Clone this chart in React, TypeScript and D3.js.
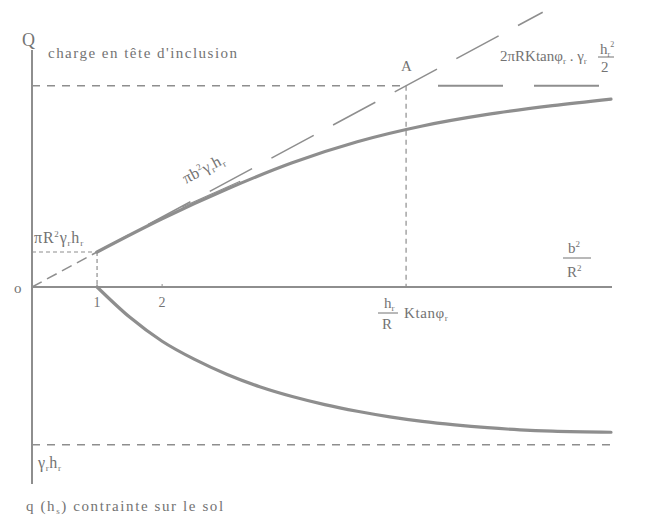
import React from "react";
import * as d3 from "d3";

// Abscissa b²/R², ordinate in units of πR²γr·hr
const upperX = [1, 2, 3, 4, 5, 6, 7, 8, 8.9];
const upperQ = [1, 1.95, 2.8, 3.55, 4.15, 4.6, 4.93, 5.18, 5.37];

const lowerX = [1, 1.5, 2, 2.5, 3, 3.5, 4, 4.5, 5, 5.5, 6, 6.5, 7, 7.5, 8, 8.9];
const lowerQ = [0, -0.86, -1.55, -2.07, -2.5, -2.85, -3.13, -3.36, -3.55, -3.71, -3.84, -3.94, -4.02, -4.08, -4.12, -4.15];

const pointA = 5.75; // hr/R · Ktanφr : Q of the asymptote
const soilLevel = -4.51; // γr·hr
const diagonalEnd = 7.85;
const xTicks = [1, 2];

const W = 659;
const H = 515;
const ink = "#8e8e8e";
const textInk = "#737373";
const serif = "'Liberation Serif', 'Times New Roman', serif";

export default function App() {
  const x = d3.scaleLinear().domain([0, 8.9]).range([32, 611]);
  const y = d3.scaleLinear().domain([0, 1]).range([287, 252]);

  const curve = d3
    .line<[number, number]>()
    .x((d) => x(d[0]))
    .y((d) => y(d[1]))
    .curve(d3.curveMonotoneX);

  const upper = curve(upperX.map((v, i) => [v, upperQ[i]] as [number, number])) || "";
  const lower = curve(lowerX.map((v, i) => [v, lowerQ[i]] as [number, number])) || "";

  // thin tangent segment along the upper curve around b²/R² ≈ 2.3–3.2
  const t0 = 2.3;
  const t1 = 3.2;
  const interp = d3.scaleLinear().domain(upperX).range(upperQ);

  return (
    <svg width={W} height={H} style={{ position: "absolute", left: 0, top: 0, background: "#fff" }}>
      {/* axes */}
      <line x1={x(0)} x2={x(0)} y1={50} y2={484} stroke={ink} strokeWidth={2} />
      <line x1={x(0)} x2={x(8.9) + 1} y1={y(0)} y2={y(0)} stroke={ink} strokeWidth={2} />
      {xTicks.map((t) => (
        <g key={t}>
          <line x1={x(t)} x2={x(t)} y1={y(0) - 3} y2={y(0)} stroke={ink} strokeWidth={1} />
          <text x={x(t)} y={307} fontSize={14} fill={textInk} fontFamily={serif} textAnchor="middle">
            {t}
          </text>
        </g>
      ))}

      {/* asymptote level through A */}
      <line x1={x(0)} x2={x(pointA)} y1={y(pointA)} y2={y(pointA)} stroke={ink} strokeWidth={1.5} strokeDasharray="8 7" />
      <line x1={438} x2={600} y1={y(pointA)} y2={y(pointA)} stroke={ink} strokeWidth={1.8} strokeDasharray="65 31" />

      {/* soil level */}
      <line x1={x(0)} x2={x(8.9)} y1={y(soilLevel)} y2={y(soilLevel)} stroke={ink} strokeWidth={1.5} strokeDasharray="8 7" />

      {/* Q = πb²γr hr line */}
      <line x1={x(0)} y1={y(0)} x2={x(1)} y2={y(1)} stroke={ink} strokeWidth={1.5} strokeDasharray="11 6" />
      <line x1={x(1)} y1={y(1)} x2={x(diagonalEnd)} y2={y(diagonalEnd)} stroke={ink} strokeWidth={1.5} strokeDasharray="0 8 48 14" strokeDashoffset={-120} />

      {/* reference guides */}
      <line x1={x(0)} x2={x(1)} y1={y(1)} y2={y(1)} stroke={ink} strokeWidth={1.2} strokeDasharray="4 3" />
      <line x1={x(1)} x2={x(1)} y1={y(1)} y2={y(0)} stroke={ink} strokeWidth={1.2} strokeDasharray="4 3" />
      <line x1={x(pointA)} x2={x(pointA)} y1={y(pointA)} y2={y(0)} stroke={ink} strokeWidth={1.2} strokeDasharray="5 4" />

      {/* curves */}
      <path d={upper} fill="none" stroke={ink} strokeWidth={3.2} strokeLinecap="round" />
      <path d={lower} fill="none" stroke={ink} strokeWidth={3.2} strokeLinecap="round" />
      <line
        x1={x(t0)}
        y1={y(interp(t0)) - 2.5}
        x2={x(t1)}
        y2={y(interp(t1)) - 2.5}
        stroke={ink}
        strokeWidth={1.2}
      />

      {/* labels */}
      <g fontFamily={serif} fill={textInk}>
        <text x={22} y={46} fontSize={18}>Q</text>
        <text x={48} y={58} fontSize={15} textLength={189} lengthAdjust="spacing">
          charge en tête d'inclusion
        </text>
        <text x={401} y={71} fontSize={15}>A</text>

        <text x={500} y={61} fontSize={15}>
          2πRKtanφ<tspan fontSize={9} dy={3}>r</tspan>
          <tspan dy={-3}> . γ</tspan>
          <tspan fontSize={9} dy={3}>r</tspan>
        </text>
        <text x={600} y={54} fontSize={15}>
          h<tspan fontSize={8} dy={3}>r</tspan>
          <tspan fontSize={8} dy={-10}>2</tspan>
        </text>
        <line x1={598} x2={614} y1={57} y2={57} stroke={textInk} strokeWidth={1} />
        <text x={601} y={72} fontSize={15}>2</text>

        <text x={186} y={184} fontSize={16} transform="rotate(-28 186 184)" letterSpacing={0.5}>
          πb<tspan fontSize={9} dy={-6}>2</tspan>
          <tspan dy={6}>γ</tspan>
          <tspan fontSize={9} dy={3}>r</tspan>
          <tspan dy={-3}>h</tspan>
          <tspan fontSize={9} dy={3}>r</tspan>
        </text>

        <text x={34} y={243} fontSize={16} letterSpacing={0.8}>
          πR<tspan fontSize={9} dy={-6}>2</tspan>
          <tspan dy={6}>γ</tspan>
          <tspan fontSize={9} dy={3}>r</tspan>
          <tspan dy={-3}>h</tspan>
          <tspan fontSize={9} dy={3}>r</tspan>
        </text>

        <text x={14} y={293} fontSize={15}>o</text>

        <text x={384} y={308} fontSize={15}>
          h<tspan fontSize={9} dy={3}>r</tspan>
        </text>
        <line x1={378} x2={398} y1={313} y2={313} stroke={textInk} strokeWidth={1} />
        <text x={382} y={329} fontSize={15}>R</text>
        <text x={404} y={318} fontSize={15} letterSpacing={0.6}>
          Ktanφ<tspan fontSize={9} dy={3}>r</tspan>
        </text>

        <text x={568} y={253} fontSize={15}>
          b<tspan fontSize={9} dy={-6}>2</tspan>
        </text>
        <line x1={563} x2={591} y1={258} y2={258} stroke={textInk} strokeWidth={1} />
        <text x={567} y={277} fontSize={15}>
          R<tspan fontSize={9} dy={-6}>2</tspan>
        </text>

        <text x={38} y={468} fontSize={16} letterSpacing={0.6}>
          γ<tspan fontSize={9} dy={3}>r</tspan>
          <tspan dy={-3}>h</tspan>
          <tspan fontSize={9} dy={3}>r</tspan>
        </text>

        <text x={26} y={511} fontSize={15} letterSpacing={1.6}>
          q (h<tspan fontSize={9} dy={3}>s</tspan>
          <tspan dy={-3}>) contrainte sur le sol</tspan>
        </text>
      </g>
    </svg>
  );
}
